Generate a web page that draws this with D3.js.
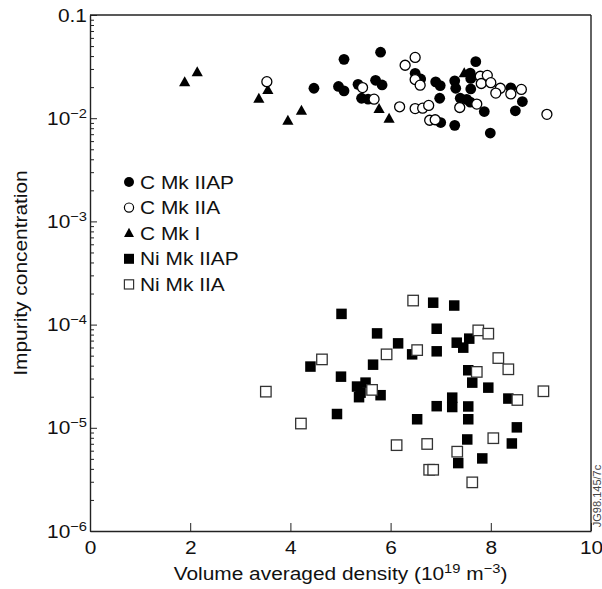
<!DOCTYPE html>
<html>
<head>
<meta charset="utf-8">
<script src="https://cdn.jsdelivr.net/npm/d3@7"></script>
<style>
  html, body { margin: 0; padding: 0; background: #fff; }
  svg { display: block; font-family: "Liberation Sans", Arial, Helvetica, sans-serif; }
</style>
</head>
<body>
<svg id="chart" width="602" height="589"></svg>
<script>
// ---------- data (x = volume averaged density 1e19 m^-3, y = impurity concentration) ----------
const cMkIIAP = [
  [4.47,1.95e-2],[4.96,2.03e-2],[5.07,1.84e-2],[5.07,3.72e-2],[5.35,2.13e-2],[5.42,1.56e-2],
  [5.55,1.53e-2],[5.70,2.33e-2],[5.80,4.36e-2],[5.83,2.10e-2],[6.49,2.72e-2],[6.60,2.40e-2],
  [6.90,2.25e-2],[6.99,2.07e-2],[6.98,1.56e-2],[7.00,9.08e-3],[7.28,2.30e-2],[7.30,1.95e-2],
  [7.28,8.53e-3],[7.39,1.56e-2],[7.52,1.52e-2],[7.59,2.73e-2],[7.60,2.43e-2],[7.60,1.92e-2],
  [7.59,1.43e-2],[7.70,3.53e-2],[7.87,1.16e-2],[7.99,7.18e-3],[8.40,1.97e-2],[8.63,1.45e-2],
  [8.49,1.18e-2]
];
const cMkIIA = [
  [3.53,2.26e-2],[5.44,1.98e-2],[5.67,1.53e-2],[6.18,1.29e-2],[6.29,3.26e-2],[6.49,3.88e-2],
  [6.49,2.37e-2],[6.59,2.09e-2],[6.49,1.24e-2],[6.64,1.25e-2],[6.76,1.33e-2],[6.78,9.55e-3],
  [6.89,9.66e-3],[7.38,1.27e-2],[7.79,2.55e-2],[7.93,2.60e-2],[7.81,2.17e-2],[8.00,2.21e-2],
  [7.72,1.37e-2],[8.19,1.95e-2],[8.10,1.75e-2],[8.40,1.72e-2],[8.61,1.90e-2],[9.12,1.09e-2]
];
const cMkI = [
  [1.89,2.23e-2],[2.14,2.79e-2],[3.37,1.54e-2],[3.55,1.88e-2],[3.95,9.44e-3],[4.22,1.18e-2],
  [5.77,1.23e-2],[5.97,9.87e-3],[7.47,2.73e-2]
];
const niMkIIAP = [
  [4.40,3.92e-5],[4.93,1.36e-5],[5.01,3.13e-5],[5.02,1.27e-4],[5.33,2.51e-5],[5.37,1.98e-5],
  [5.40,2.19e-5],[5.50,2.74e-5],[5.65,4.09e-5],[5.73,8.22e-5],[5.80,2.07e-5],[6.15,6.58e-5],
  [6.43,5.15e-5],[6.53,1.21e-5],[6.85,1.63e-4],[6.92,9.12e-5],[6.92,5.51e-5],[6.92,1.62e-5],
  [7.27,1.53e-4],[7.32,6.68e-5],[7.45,5.98e-5],[7.57,7.31e-5],[7.55,3.61e-5],[7.63,2.74e-5],
  [7.95,2.45e-5],[8.35,1.92e-5],[7.23,1.96e-5],[7.23,1.59e-5],[7.55,1.61e-5],[7.55,1.21e-5],
  [8.52,1.01e-5],[7.53,7.71e-6],[8.42,7.05e-6],[7.35,4.55e-6],[7.83,5.05e-6]
];
const niMkIIA = [
  [3.51,2.24e-5],[4.21,1.10e-5],[4.63,4.60e-5],[5.63,2.33e-5],[5.92,5.15e-5],[6.45,1.71e-4],
  [6.53,5.66e-5],[6.12,6.79e-6],[6.73,6.97e-6],[6.77,3.92e-6],[6.85,3.92e-6],[7.75,8.79e-5],
  [7.95,8.17e-5],[8.15,4.74e-5],[8.35,3.69e-5],[7.72,3.48e-5],[9.05,2.26e-5],[8.53,1.86e-5],
  [8.05,7.93e-6],[7.33,5.87e-6],[7.63,2.96e-6]
];
const xTicks = [0, 2, 4, 6, 8, 10];
const yMajor = [1e-1, 1e-2, 1e-3, 1e-4, 1e-5, 1e-6];
const yLabels = [["0.1", ""], ["10", "−2"], ["10", "−3"], ["10", "−4"], ["10", "−5"], ["10", "−6"]];
const legendItems = ["C Mk IIAP", "C Mk IIA", "C Mk I", "Ni Mk IIAP", "Ni Mk IIA"];

// ---------- layout ----------
const L = 90, R = 591, T = 15, B = 531;
const FS = 18.5, SUP = 13, SX = 1.13;
const svg = d3.select("#chart");
const x = d3.scaleLinear().domain([0, 10]).range([L, R]);
const y = d3.scaleLog().domain([1e-6, 1e-1]).range([B, T]);
const axisColor = "#222";
const textColor = "#111";

// text helper: anchored group, horizontally widened glyphs
function label(px, py, rot) {
  return svg.append("g")
    .attr("transform", `translate(${px},${py})${rot ? ` rotate(${rot})` : ""} scale(${SX},1)`)
    .append("text").attr("font-size", FS).attr("fill", textColor);
}

// minor ticks
const yMinor = [];
for (let e = -6; e < -1; e++) for (let m = 2; m <= 9; m++) yMinor.push(m * Math.pow(10, e));

const gMinor = svg.append("g").attr("transform", `translate(${L},0)`)
  .call(d3.axisLeft(y).tickValues(yMinor).tickSizeInner(-4).tickSizeOuter(0).tickFormat(""));
gMinor.select(".domain").remove();
gMinor.selectAll("line").attr("stroke", axisColor).attr("stroke-width", 1);

const gY = svg.append("g").attr("transform", `translate(${L},0)`)
  .call(d3.axisLeft(y).tickValues(yMajor).tickSizeInner(-7).tickSizeOuter(0).tickFormat(""));
gY.selectAll("line").attr("stroke", axisColor).attr("stroke-width", 1);
gY.select(".domain").attr("stroke", axisColor).attr("stroke-width", 1.4);

const gX = svg.append("g").attr("transform", `translate(0,${B})`)
  .call(d3.axisBottom(x).tickValues(xTicks).tickSizeInner(-8).tickSizeOuter(0).tickPadding(10).tickFormat(d3.format("d")));
gX.selectAll("line").attr("stroke", axisColor).attr("stroke-width", 1);
gX.select(".domain").attr("stroke", axisColor).attr("stroke-width", 1.4);
gX.selectAll("text").attr("font-size", FS).attr("fill", textColor)
  .attr("font-family", "'Liberation Sans', Arial, sans-serif")
  .attr("transform", `scale(${SX},1)`);

// frame top/right
svg.append("line").attr("x1", L).attr("x2", R).attr("y1", T).attr("y2", T)
  .attr("stroke", axisColor).attr("stroke-width", 1.4);
svg.append("line").attr("x1", R).attr("x2", R).attr("y1", T).attr("y2", B)
  .attr("stroke", axisColor).attr("stroke-width", 1.4);

// y tick labels
yMajor.forEach((v, i) => {
  const t = label(87, y(v)).attr("dy", "0.36em").attr("text-anchor", "end");
  t.append("tspan").text(yLabels[i][0]);
  if (yLabels[i][1]) t.append("tspan").attr("font-size", SUP).attr("dy", "-0.55em").text(yLabels[i][1]);
});

// axis titles
label(21, (T + B) / 2, -90).attr("text-anchor", "middle").attr("dy", "0.35em")
  .text("Impurity concentration");
const xt = label((L + R) / 2, 580).attr("text-anchor", "middle");
xt.append("tspan").text("Volume averaged density (10");
xt.append("tspan").attr("font-size", SUP).attr("dy", "-7").text("19");
xt.append("tspan").attr("dy", "7").text(" m");
xt.append("tspan").attr("font-size", SUP).attr("dy", "-7").text("−3");
xt.append("tspan").attr("dy", "7").text(")");

// side code
svg.append("text").attr("transform", `translate(601,496) rotate(-90)`)
  .attr("text-anchor", "middle").attr("font-size", 11).attr("fill", "#444")
  .text("JG98.145/7c");

// ---------- markers ----------
const triPath = "M0,-6L5.6,4L-5.6,4Z";
const sq = 10.5;

function drawTri(data, g) {
  g.selectAll("path.tri").data(data).join("path").attr("class", "tri")
    .attr("d", triPath).attr("fill", "#000")
    .attr("transform", d => `translate(${x(d[0])},${y(d[1])})`);
}
function drawCircles(data, g, filled) {
  g.selectAll("circle").data(data).join("circle")
    .attr("cx", d => x(d[0])).attr("cy", d => y(d[1]))
    .attr("r", filled ? 5.4 : 5.0)
    .attr("fill", filled ? "#000" : "#fff")
    .attr("stroke", "#000").attr("stroke-width", filled ? 0 : 1.3);
}
function drawSquares(data, g, filled) {
  g.selectAll("rect").data(data).join("rect")
    .attr("x", d => x(d[0]) - sq / 2).attr("y", d => y(d[1]) - sq / 2)
    .attr("width", sq).attr("height", sq)
    .attr("fill", filled ? "#000" : "#fff")
    .attr("stroke", filled ? "none" : "#333").attr("stroke-width", filled ? 0 : 1.3);
}
drawTri(cMkI, svg.append("g"));
drawCircles(cMkIIAP, svg.append("g"), true);
drawCircles(cMkIIA, svg.append("g"), false);
drawSquares(niMkIIAP, svg.append("g"), true);
drawSquares(niMkIIA, svg.append("g"), false);

// ---------- legend ----------
const lg = svg.append("g");
const ly0 = 182, lstep = 25.6, lx = 129;
legendItems.forEach((name, i) => {
  const cy = ly0 + i * lstep;
  if (i === 0) lg.append("circle").attr("cx", lx).attr("cy", cy).attr("r", 5).attr("fill", "#000");
  if (i === 1) lg.append("circle").attr("cx", lx).attr("cy", cy).attr("r", 4.6).attr("fill", "#fff").attr("stroke", "#000").attr("stroke-width", 1.2);
  if (i === 2) lg.append("path").attr("d", "M0,-5.5L5,3.8L-5,3.8Z").attr("transform", `translate(${lx},${cy})`).attr("fill", "#000");
  if (i === 3) lg.append("rect").attr("x", lx - 5).attr("y", cy - 5).attr("width", 10).attr("height", 10).attr("fill", "#000");
  if (i === 4) lg.append("rect").attr("x", lx - 4.6).attr("y", cy - 4.6).attr("width", 9.2).attr("height", 9.2).attr("fill", "#fff").attr("stroke", "#333").attr("stroke-width", 1.2);
  label(140, cy).attr("dy", "0.36em").text(name);
});
</script>
</body>
</html>
